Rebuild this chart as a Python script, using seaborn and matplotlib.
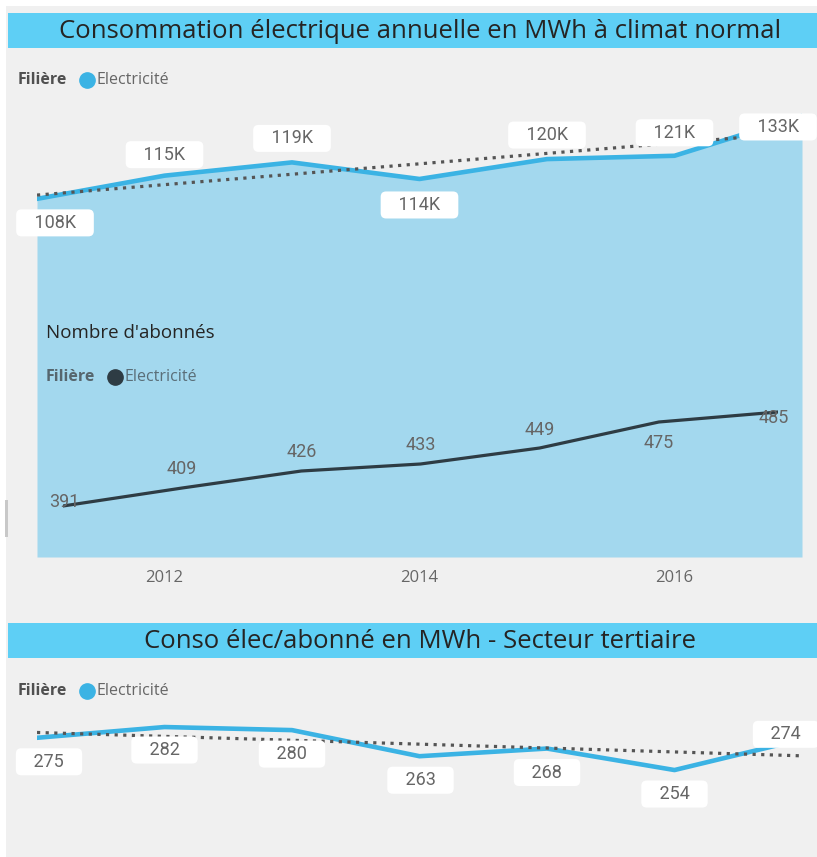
import matplotlib
matplotlib.use("Agg")
import matplotlib.pyplot as plt
import seaborn as sns
from matplotlib.patches import Rectangle
from matplotlib.lines import Line2D

# data
years = [2011, 2012, 2013, 2014, 2015, 2016, 2017]
conso_k = [108, 115, 119, 114, 120, 121, 133]          # MWh, thousands
abonnes = [391, 409, 426, 433, 449, 475, 485]
conso_par_abonne = [275, 282, 280, 263, 268, 254, 274]  # MWh / abonné

# label offsets in pixels (dx, dy), dy positive = downwards
off_conso = [(18, 24), (0, -21), (0, -24), (0, 26), (0, -24), (0, -23), (-24, 11)]
off_abon = [(1, -4), (0, -19), (0, -19), (0, -19), (0, -18), (0, 21), (-4, 6)]
off_ratio = [(12, 24), (0, 23), (0, 24), (1, 24), (0, 24), (0, 24), (-16, -5)]

sns.set_theme(style="white")
plt.rcParams['font.family'] = ['Open Sans', 'DejaVu Sans']

W, H = 817, 857
BAR = '#5ECFF5'
FILL = '#A3D8EE'
BLUE = '#3BB3E4'
DARK = '#2E3C44'
GREY_BG = '#F0F0F0'
LABEL = '#666666'
NUM_FONT = ['Roboto', 'DejaVu Sans']


def px_box(x0, y0, x1, y1):
    return [x0 / W, 1 - y1 / H, (x1 - x0) / W, (y1 - y0) / H]


def fx(x):
    return x / W


def fy(y):
    return 1 - y / H


fig = plt.figure(figsize=(W / 100, H / 100), dpi=100)
fig.patch.set_facecolor('white')
fig.patches.append(Rectangle((fx(6), fy(857)), fx(811), 851 / H, transform=fig.transFigure,
                             facecolor=GREY_BG, edgecolor='none', zorder=-5))
fig.patches.append(Rectangle((fx(5), fy(537)), fx(3), 37 / H, transform=fig.transFigure,
                             facecolor='#C8C8C8', edgecolor='none', zorder=-4))

# title bars
for y0, y1, title in [(13, 48, "Consommation électrique annuelle en MWh à climat normal"),
                      (623, 658, "Conso élec/abonné en MWh - Secteur tertiaire")]:
    fig.patches.append(Rectangle((fx(8), fy(y1)), fx(809), (y1 - y0) / H, transform=fig.transFigure,
                                 facecolor=BAR, edgecolor='none', zorder=-3))
    fig.text(fx(420), fy((y0 + y1) / 2 + 1), title, ha='center', va='center',
             fontsize=18.5, color='#252423')


def legend(x, y, dot_color, text_color='#666666', bold_color='#505050'):
    fig.text(fx(x), fy(y), "Filière", ha='left', va='center', fontsize=11.5,
             fontweight='bold', color=bold_color)
    fig.add_artist(Line2D([fx(x + 69)], [fy(y)], marker='o', markersize=11,
                          color=dot_color, linestyle='none', transform=fig.transFigure))
    fig.text(fx(x + 79), fy(y), "Electricité", ha='left', va='center', fontsize=11.5,
             color=text_color)


def labels(ax, xs, ys, offsets, boxed, fmt):
    for x, y, (dx, dy) in zip(xs, ys, offsets):
        txt = fmt(y)
        kw = {}
        if boxed:
            txt = "   " + txt + "   "
            kw['bbox'] = dict(boxstyle='round,pad=0.25,rounding_size=0.3', fc='white', ec='none')
        ax.annotate(txt, xy=(x, y), xytext=(dx, -dy), textcoords='offset pixels',
                    ha='center', va='center', fontsize=13, color=LABEL, family=NUM_FONT,
                    zorder=10, annotation_clip=False, **kw)


def clean(ax):
    ax.set_facecolor('none')
    ax.set_xlabel('')
    ax.set_ylabel('')
    for s in ax.spines.values():
        s.set_visible(False)
    ax.set_yticks([])


# top panel: annual consumption
legend(18, 80, BLUE)
ax1 = fig.add_axes(px_box(37, 110, 802, 557))
ax1.fill_between(years, conso_k, color=FILL, lw=0, zorder=1)
sns.lineplot(x=years, y=conso_k, ax=ax1, color=BLUE, lw=3.3, zorder=3)
sns.regplot(x=years, y=conso_k, ax=ax1, scatter=False, ci=None, truncate=True,
            line_kws=dict(color='#555555', lw=2.3, linestyle=(0, (1, 1.7)), zorder=4))
ax1.set_xlim(2011, 2017)
ax1.set_ylim(0, 134.8)
clean(ax1)
ax1.set_xticks([2012, 2014, 2016])
ax1.set_xticklabels(['2012', '2014', '2016'])
ax1.tick_params(axis='x', length=0, pad=9, labelsize=12, labelcolor=LABEL)
labels(ax1, years, conso_k, off_conso, True, lambda v: f"{v}K")

# overlay: number of subscribers
fig.text(fx(46), fy(333), "Nombre d'abonnés", ha='left', va='center', fontsize=13.5, color='#252423')
legend(46, 377, DARK, text_color='#5A6E78', bold_color='#56666E')
ax2 = fig.add_axes(px_box(63, 300, 778, 557))
sns.lineplot(x=years, y=abonnes, ax=ax2, color=DARK, lw=2.3)
ax2.set_xlim(2011, 2017)
ax2.set_ylim(340, 597)
clean(ax2)
ax2.set_xticks([])
labels(ax2, years, abonnes, off_abon, False, lambda v: f"{v}")

# bottom panel: consumption per subscriber
legend(18, 691, BLUE)
ax3 = fig.add_axes(px_box(37, 700, 802, 800))
sns.lineplot(x=years, y=conso_par_abonne, ax=ax3, color=BLUE, lw=3.3, zorder=3)
sns.regplot(x=years, y=conso_par_abonne, ax=ax3, scatter=False, ci=None, truncate=True,
            line_kws=dict(color='#555555', lw=2.3, linestyle=(0, (1, 1.7)), zorder=4))
ax3.set_xlim(2011, 2017)
ax3.set_ylim(234.5, 299.6)
clean(ax3)
ax3.set_xticks([])
labels(ax3, years, conso_par_abonne, off_ratio, True, lambda v: f"{v}")

fig.savefig('out.png', dpi=100, facecolor=fig.get_facecolor())
